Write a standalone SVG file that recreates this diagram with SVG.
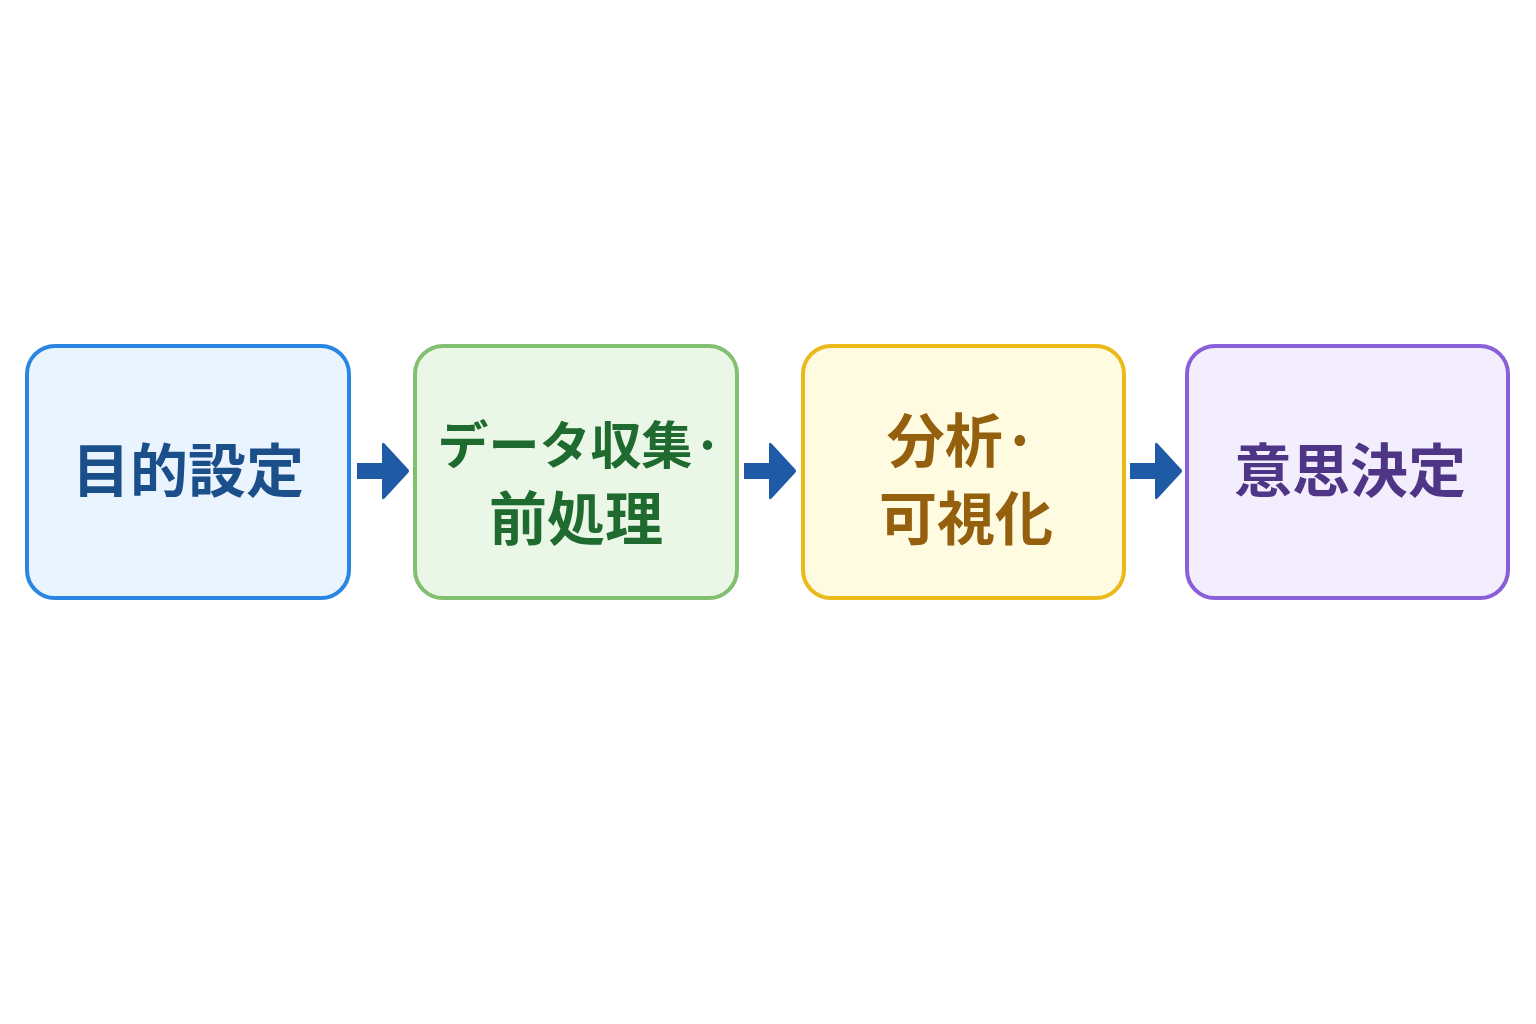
<svg xmlns="http://www.w3.org/2000/svg" width="1536" height="1024" viewBox="0 0 1536 1024">
<style>
.b{stroke-width:4}
.t{font-family:"Noto Sans CJK JP","Noto Sans CJK SC",sans-serif;font-weight:700;font-size:58px;text-anchor:middle}
.a{fill:#1f5aa6}
</style>
<defs><path id="arr" d="M0,-8 H25 V-26 Q25,-30 28,-27 L51,-2 Q53,0 51,2 L28,27 Q25,30 25,26 V8 H0 Z"/></defs>
<rect width="1536" height="1024" fill="#fff"/>
<g id="n1"><rect class="b" x="27" y="346" width="322" height="252" rx="28" fill="#eaf4fe" stroke="#2a86e0"/><text class="t" x="188" y="492" fill="#1b4f8a">目的設定</text></g>
<g id="n2"><rect class="b" x="415" y="346" width="322" height="252" rx="28" fill="#eaf6e6" stroke="#80c070"/><text class="t" x="580" y="464" fill="#1f6a2e" style="font-size:51px">データ収集·</text><text class="t" x="576" y="540" fill="#1f6a2e">前処理</text></g>
<g id="n3"><rect class="b" x="803" y="346" width="321" height="252" rx="28" fill="#fffbe0" stroke="#ebb91a"/><text class="t" x="962" y="462" fill="#94600e">分析·</text><text class="t" x="966" y="540" fill="#94600e">可視化</text></g>
<g id="n4"><rect class="b" x="1187" y="346" width="321" height="252" rx="28" fill="#f3eefd" stroke="#8a5fd8"/><text class="t" x="1350" y="492" fill="#4e3585">意思決定</text></g>
<g id="connectors">
<use href="#arr" class="a" x="357" y="471"/>
<use href="#arr" class="a" x="744" y="471"/>
<use href="#arr" class="a" x="1130" y="471"/>
</g>
</svg>
